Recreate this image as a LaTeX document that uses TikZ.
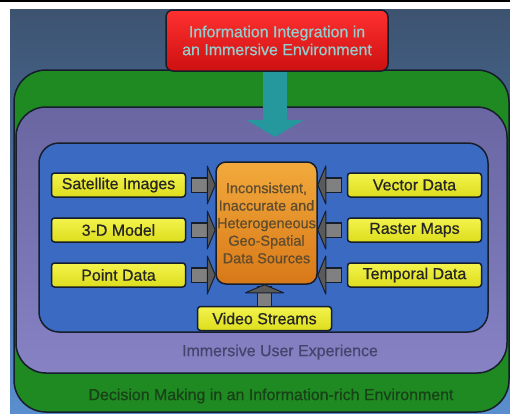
\documentclass[tikz,border=0pt]{standalone}
\usepackage{fontspec}
\setmainfont{Liberation Sans}[BoldFont={Liberation Sans},BoldFeatures={FakeBold=0.7}]
\usepackage{tikz}
\usetikzlibrary{calc}
\usetikzlibrary{arrows.meta}
\definecolor{slatetop}{RGB}{61,83,112}
\definecolor{slatebot}{RGB}{90,142,206}
\definecolor{ringgreen}{RGB}{31,138,34}
\definecolor{lilactop}{RGB}{106,102,162}
\definecolor{lilacbot}{RGB}{134,130,196}
\definecolor{innerblue}{RGB}{58,106,194}
\definecolor{outline}{RGB}{22,30,44}
\definecolor{srcyellow}{RGB}{240,240,32}
\definecolor{orangetop}{RGB}{242,170,60}
\definecolor{orangebot}{RGB}{216,120,24}
\definecolor{redtop}{RGB}{255,48,48}
\definecolor{redbot}{RGB}{205,16,16}
\definecolor{titletext}{RGB}{150,204,204}
\definecolor{dropteal}{RGB}{36,152,156}
\definecolor{feedgray}{RGB}{128,128,128}
\definecolor{coretext}{RGB}{96,76,46}
\definecolor{lilactext}{RGB}{70,68,108}
\definecolor{greentext}{RGB}{24,66,24}
\tikzset{
  frame/.style={draw=outline,line width=1.5bp},
  source/.style={draw=outline,line width=1.5bp,rounded corners=3bp,top color=srcyellow!80!white,bottom color=srcyellow!92!black,minimum width=134bp,minimum height=24bp,inner sep=0pt,text=black!85,font=\fontsize{16}{18}\selectfont\bfseries},
  core/.style={draw=outline,line width=1.5bp,rounded corners=10bp,top color=orangetop,bottom color=orangebot,minimum width=101bp,minimum height=122bp,inner sep=0pt,align=center,text=coretext,font=\fontsize{14.5}{17.6}\selectfont\bfseries},
  title/.style={draw=outline,line width=1.5bp,rounded corners=7bp,top color=redtop,bottom color=redbot,minimum width=222bp,minimum height=61bp,inner sep=0pt,align=center,text=titletext,font=\fontsize{16}{18}\selectfont\bfseries},
  feed/.style={draw=outline,line width=1.2bp,double=feedgray,double distance=13bp,line cap=rect,shorten <=12bp,shorten >=7bp},
  feedhead/.style={fill=feedgray!70!black,draw=outline,line width=1bp,line join=round},
  droparrow/.style={draw=dropteal,line width=24bp,-{Triangle[width=56bp,length=17bp]}},
  caption/.style={font=\fontsize{16}{18}\selectfont\bfseries}
}

\begin{document}
\begin{tikzpicture}[x=1bp,y=-1bp]
	\useasboundingbox (0,0) rectangle (510,413);
	% backdrop and nested panels
	\fill[white] (0,0) rectangle (510,413);
	\fill[black] (0,0) rectangle (510,1.5);
	\shade[top color=slatetop,bottom color=slatebot] (10,9) rectangle (510,413);
	\draw[frame,fill=ringgreen,rounded corners=32bp] (14,70) rectangle (509,412);
	\draw[frame,top color=lilactop,bottom color=lilacbot,rounded corners=30bp] (16,107) rectangle (507,373);
	\draw[frame,fill=innerblue,rounded corners=20bp] (39,143) rectangle (488,332);
	% boxes
	\node[title] (title) at (277,40.5) {Information Integration in\\an Immersive Environment};
	\node[core] (core) at (266.5,223) {Inconsistent,\\Inaccurate and\\Heterogeneous\\Geo-Spatial\\Data Sources};
	\node[source] (sat) at (118.5,185) {Satellite Images};
	\node[source] (model) at (118.5,230) {3-D Model};
	\node[source] (point) at (118.5,275) {Point Data};
	\node[source] (vector) at (414.5,185) {Vector Data};
	\node[source] (raster) at (414.5,230) {Raster Maps};
	\node[source] (temporal) at (414.5,275) {Temporal Data};
	\node[source] (video) at (264.5,318.5) {Video Streams};
	\node[caption,text=lilactext] (ux) at (280,352) {Immersive User Experience};
	\node[caption,text=greentext] (decision) at (271,396) {Decision Making in an Information-rich Environment};
	% arrows
	\coordinate (drop) at (275,137);
	\draw[droparrow] (title.south -| drop) -- (drop);
	\foreach \a/\b in {sat.east/sat.east -| core.west,model.east/model.east -| core.west,point.east/point.east -| core.west,vector.west/vector.west -| core.east,raster.west/raster.west -| core.east,temporal.west/temporal.west -| core.east,video.north/video.north |- core.south} {
		\coordinate (from) at (\a);
		\coordinate (to) at (\b);
		\coordinate (hb) at ($(to)!8bp!(from)$);
		\draw[feed] (from) -- (hb);
		\filldraw[feedhead] ($(hb)!19bp!90:(to)$) -- (to) -- ($(hb)!19bp!-90:(to)$) -- cycle;
	}
\end{tikzpicture}
\end{document}
